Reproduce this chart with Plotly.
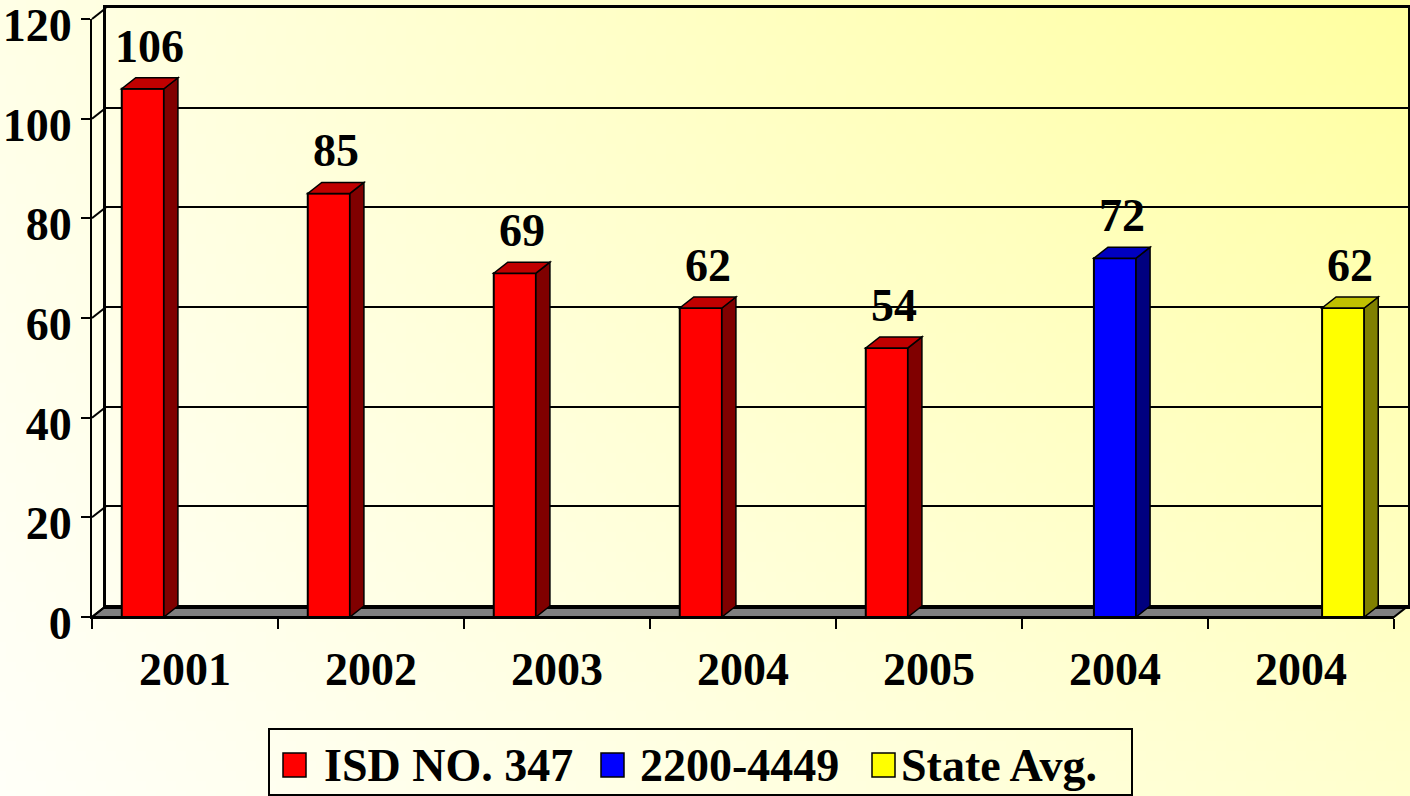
import zlib, struct, base64
import plotly.graph_objects as go

# ---------------- data ----------------
categories = ["2001", "2002", "2003", "2004", "2005", "2004", "2004"]
series_names = ["ISD NO. 347", "2200-4449", "State Avg."]
isd_values = [106, 85, 69, 62, 54, None, None]
group_values = [None, None, None, None, None, 72, None]
state_values = [None, None, None, None, None, None, 62]
y_ticks = [0, 20, 40, 60, 80, 100, 120]

front_colors = ["#FF0000", "#0000FF", "#FFFF00"]
top_colors = ["#C00000", "#0000C0", "#C0C000"]
side_colors = ["#800000", "#000080", "#808000"]

# ---------------- geometry (pixels) ----------------
W, H = 1410, 796
FX0, FX1, FYB, FYT = 92, 1394, 617, 19      # front plane of the plot
DX, DY = 14, 11                              # 3-D depth offset
YMAX = 120
BARGAP = 0.32
NCAT = len(categories)
ppu_y = (FYB - FYT) / YMAX
ppu_x = (FX1 - FX0) / NCAT
dxu = DX / ppu_x
dyu = DY / ppu_y

def px(x):
    return x / W

def py(y):
    return 1 - y / H

FONT = dict(family="Liberation Serif", size=46, color="black", weight="bold")

# ---------------- background gradient image ----------------
def make_png(w, h, corners):
    tl, tr, bl, br = corners
    rows = []
    for j in range(h):
        fy = j / (h - 1)
        row = bytearray([0])
        for i in range(w):
            fx = i / (w - 1)
            pix = []
            for k in range(3):
                top = tl[k] * (1 - fx) + tr[k] * fx
                bot = bl[k] * (1 - fx) + br[k] * fx
                pix.append(int(round(top * (1 - fy) + bot * fy)))
            row += bytes(pix)
        rows.append(bytes(row))
    raw = b"".join(rows)

    def chunk(t, d):
        return struct.pack(">I", len(d)) + t + d + struct.pack(">I", zlib.crc32(t + d) & 0xFFFFFFFF)

    return (b"\x89PNG\r\n\x1a\n" + chunk(b"IHDR", struct.pack(">IIBBBBB", w, h, 8, 2, 0, 0, 0))
            + chunk(b"IDAT", zlib.compress(raw)) + chunk(b"IEND", b""))

png = make_png(141, 80, [(255, 255, 230), (255, 255, 160), (255, 255, 248), (255, 255, 206)])
bg_uri = "data:image/png;base64," + base64.b64encode(png).decode()

fig = go.Figure()

# dummy trace to create the back-wall subplot
fig.add_trace(go.Scatter(x=[0.5], y=[0], mode="markers", marker=dict(opacity=0),
                         xaxis="x", yaxis="y", showlegend=False, hoverinfo="skip"))

all_series = [isd_values, group_values, state_values]
xs = list(range(NCAT))
for name, vals, col in zip(series_names, all_series, front_colors):
    fig.add_trace(go.Bar(x=xs, y=vals, name=name, marker=dict(color=col, line=dict(color="black", width=2)),
                         xaxis="x2", yaxis="y2", showlegend=False))

shapes = []
annotations = []
bw = (1 - BARGAP) / len(all_series)
for si, vals in enumerate(all_series):
    for ci, v in enumerate(vals):
        if v is None:
            continue
        xl = ci - (1 - BARGAP) / 2 + si * bw
        xr = xl + bw
        side = f"M {xr},0 L {xr+dxu},{dyu} L {xr+dxu},{v+dyu} L {xr},{v} Z"
        top = f"M {xl},{v} L {xr},{v} L {xr+dxu},{v+dyu} L {xl+dxu},{v+dyu} Z"
        for path, col in ((side, side_colors[si]), (top, top_colors[si])):
            shapes.append(dict(type="path", path=path, xref="x2", yref="y2", fillcolor=col,
                               line=dict(color="black", width=1.5), layer="above"))
        annotations.append(dict(x=(xl + xr) / 2 + dxu / 2, y=v + dyu, xref="x2", yref="y2",
                                text=str(v), showarrow=False, yanchor="bottom", yshift=4, font=FONT))

# floor
shapes.append(dict(type="path", xref="paper", yref="paper", layer="below",
                   path=f"M {px(FX0)},{py(FYB)} L {px(FX1)},{py(FYB)} L {px(FX1+DX)},{py(FYB-DY)} L {px(FX0+DX)},{py(FYB-DY)} Z",
                   fillcolor="#808080", line=dict(color="black", width=2)))
# left side-wall diagonals
for t in y_ticks:
    yf = FYB - t * ppu_y
    shapes.append(dict(type="line", xref="paper", yref="paper", layer="below",
                       x0=px(FX0), y0=py(yf), x1=px(FX0 + DX), y1=py(yf - DY),
                       line=dict(color="black", width=2)))

# manual legend
LX0, LX1, LY0, LY1 = 269, 1132, 729, 795
shapes.append(dict(type="rect", xref="paper", yref="paper", x0=px(LX0), x1=px(LX1), y0=py(LY1), y1=py(LY0),
                   line=dict(color="black", width=2), fillcolor="rgba(0,0,0,0)"))
leg_sq_x = [283, 601, 872]
leg_tx_x = [322, 638, 899]
for name, col, sx, tx in zip(series_names, front_colors, leg_sq_x, leg_tx_x):
    shapes.append(dict(type="rect", xref="paper", yref="paper", x0=px(sx), x1=px(sx + 23),
                       y0=py(777), y1=py(753), fillcolor=col, line=dict(color="black", width=1.5)))
    annotations.append(dict(x=px(tx), y=py(765), xref="paper", yref="paper", text=name, showarrow=False,
                            xanchor="left", yanchor="middle", font=FONT))

fig.update_layout(
    width=W, height=H, autosize=False,
    margin=dict(l=0, r=0, t=0, b=0, pad=0, autoexpand=False),
    paper_bgcolor="#FFFFE0", plot_bgcolor="rgba(0,0,0,0)",
    barmode="group", bargap=BARGAP, bargroupgap=0,
    showlegend=False,
    images=[dict(source=bg_uri, xref="paper", yref="paper", x=0, y=1, sizex=1, sizey=1,
                 xanchor="left", yanchor="top", sizing="stretch", layer="below")],
    xaxis=dict(domain=[px(FX0 + DX), px(FX1 + DX)], range=[0, 1], anchor="y", automargin=False,
               showline=True, mirror=True, linecolor="black", linewidth=2.5,
               showgrid=False, zeroline=False, showticklabels=False, ticks=""),
    yaxis=dict(domain=[py(FYB - DY), py(FYT - DY)], range=[0, YMAX], anchor="x", automargin=False,
               showline=True, mirror=True, linecolor="black", linewidth=2.5,
               showgrid=True, gridcolor="black", gridwidth=2, tickvals=y_ticks,
               zeroline=False, showticklabels=False, ticks=""),
    xaxis2=dict(domain=[px(FX0), px(FX1)], range=[-0.5, NCAT - 0.5], anchor="y2", automargin=False,
                tickvals=xs, ticktext=categories, ticks="", tickfont=FONT,
                ticklabelstandoff=11, ticklabeloverflow="allow",
                showline=True, linecolor="black", linewidth=2, showgrid=False, zeroline=False,
                minor=dict(ticks="outside", ticklen=10, tickwidth=2, tickcolor="black",
                           tick0=-0.5, dtick=1, showgrid=False)),
    yaxis2=dict(domain=[py(FYB), py(FYT)], range=[0, YMAX], anchor="x2", automargin=False,
                tickvals=y_ticks, ticks="outside", ticklen=9, tickwidth=2, tickcolor="black",
                tickfont=FONT, ticklabeloverflow="allow", ticklabelshift=6,
                showline=True, linecolor="black", linewidth=2,
                showgrid=False, zeroline=False),
    shapes=shapes, annotations=annotations,
)

fig.write_html("out.html", config={"displayModeBar": False, "responsive": False},
               post_script="document.body.style.margin='0px';document.body.style.overflow='hidden';")
